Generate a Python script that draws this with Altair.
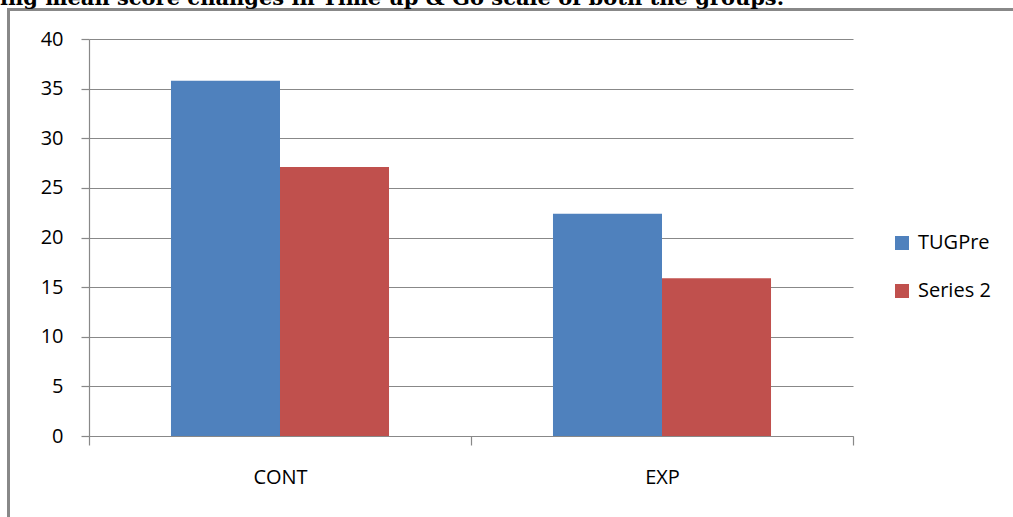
import altair as alt
import pandas as pd

groups = ["CONT", "EXP"]
series_names = ["TUGPre", "Series 2"]
tugpre = [35.8, 22.4]
series2 = [27.1, 15.9]
title_text = "ing mean score changes in Time up & Go scale of both the groups."
y_ticks = [0, 5, 10, 15, 20, 25, 30, 35, 40]

rows = []
for g, a, b in zip(groups, tugpre, series2):
    rows.append({"group": g, "series": series_names[0], "value": a})
    rows.append({"group": g, "series": series_names[1], "value": b})
df = pd.DataFrame(rows)

W, H = 764, 397
LEFT, TOP = 89, 39

bars = alt.Chart(df).mark_bar().encode(
    x=alt.X("group:N", sort=groups, title=None,
            scale=alt.Scale(paddingInner=0, paddingOuter=0),
            axis=alt.Axis(labelAngle=0, tickBand="extent", grid=False,
                          domainColor="#888888", tickColor="#888888",
                          tickSize=9, labelPadding=22, labelFont="Open Sans",
                          labelFontSize=20, labelColor="#000000", domainWidth=1.2,
                          tickWidth=1.2)),
    xOffset=alt.XOffset("series:N", sort=series_names,
                        scale=alt.Scale(paddingInner=0, paddingOuter=0.752)),
    y=alt.Y("value:Q", title=None,
            scale=alt.Scale(domain=[0, 40], nice=False),
            axis=alt.Axis(values=y_ticks, grid=True, gridColor="#888888", gridWidth=1.2,
                          domainColor="#888888", tickColor="#888888", tickSize=8,
                          labelPadding=18, labelFont="Open Sans", labelFontSize=20,
                          labelColor="#000000", domainWidth=1.2, tickWidth=1.2)),
    color=alt.Color("series:N", sort=series_names,
                    scale=alt.Scale(domain=series_names, range=["#4F81BD", "#C0504D"]),
                    legend=alt.Legend(title=None, orient="none", legendX=803, legendY=194,
                                      symbolType="square", symbolSize=196,
                                      symbolStrokeWidth=0, labelFont="Open Sans",
                                      labelFontSize=20, labelColor="#000000",
                                      labelOffset=6, rowPadding=28, padding=0)),
)

frame = alt.Chart(pd.DataFrame({"k": [0]})).mark_rect(
    fill=None, stroke="#888888", strokeWidth=3
).encode(x=alt.value(8.5 - LEFT), x2=alt.value(1013 - LEFT + 30),
         y=alt.value(9.5 - TOP), y2=alt.value(517 - TOP + 30))

title = alt.Chart(pd.DataFrame({"t": [title_text]})).mark_text(
    font="DejaVu Serif", fontWeight="bold", fontSize=21, align="left",
    baseline="alphabetic", color="#000000"
).encode(text="t:N", x=alt.value(0 - LEFT), y=alt.value(5 - TOP))

chart = alt.layer(bars, frame, title).properties(
    width=W, height=H,
    autosize=alt.AutoSizeParams(type="none"),
    padding={"left": LEFT, "top": TOP, "right": 1013 - LEFT - W, "bottom": 517 - TOP - H},
).configure(background="white").configure_view(stroke=None)

chart.save("out.html", embed_options={"renderer": "svg", "actions": False})
